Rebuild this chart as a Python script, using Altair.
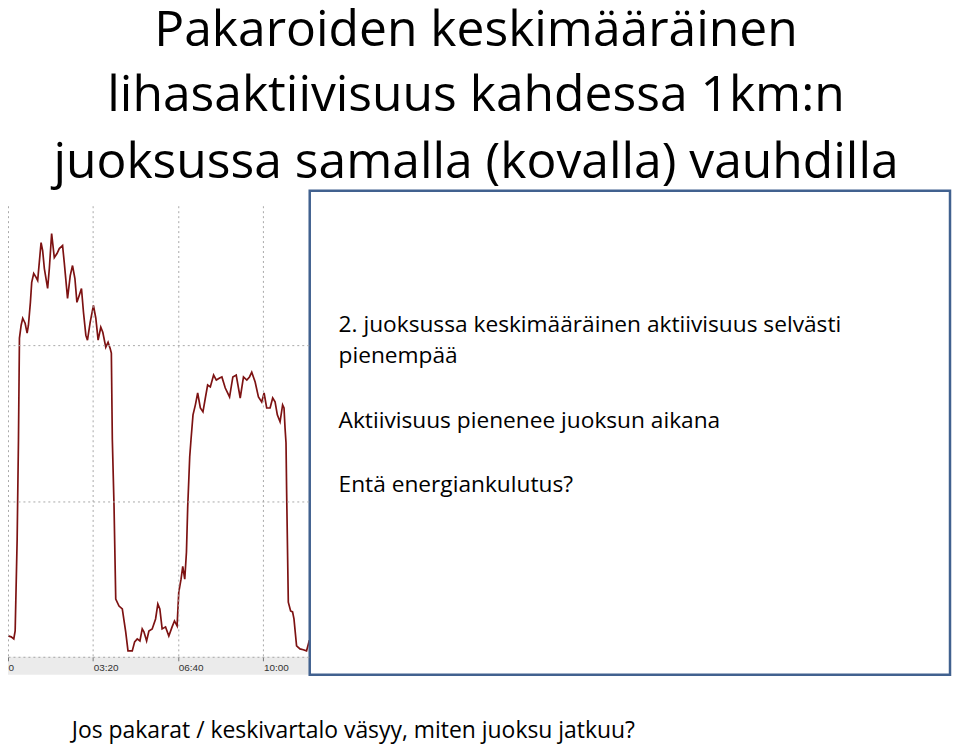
import altair as alt
import pandas as pd

# ---- text content ----
TITLE_LINES = [
    "Pakaroiden keskimääräinen",
    "lihasaktiivisuus kahdessa 1km:n",
    "juoksussa samalla (kovalla) vauhdilla",
]
BOX_LINES = [
    "2. juoksussa keskimääräinen aktiivisuus selvästi",
    "pienempää",
    "Aktiivisuus pienenee juoksun aikana",
    "Entä energiankulutus?",
]
BOTTOM_LINE = "Jos pakarat / keskivartalo väsyy, miten juoksu jatkuu?"

# ---- EMG trace (time in seconds, activity in arbitrary units) ----
time_s = [0, 7.5, 13.6, 16.8, 21.5, 24.6, 26.9, 30.9, 34.6, 40.2, 44.9, 48.0,
          52.6, 55.7, 60.4, 66.0, 69.7, 77.7, 81.4, 85.4, 93.1, 97.1, 102.5,
          108.8, 115.1, 120.5, 128.2, 132.2, 139.9, 146.2, 151.6, 157.2, 161.9,
          167.3, 172.6, 177.3, 182.9, 186.7, 193.0, 200.7, 206.3, 211.7, 218.0,
          222.7, 229.7, 235.1, 239.8, 242.8, 245.1, 249.1, 253.1, 260.8, 268.5,
          276.5, 281.9, 291.9, 297.5, 303.6, 309.9, 315.3, 319.3, 325.6, 331.0,
          338.7, 346.7, 352.0, 356.7, 362.1, 370.1, 377.8, 385.5, 391.1, 397.2,
          401.2, 406.5, 410.5, 415.2, 419.2, 422.2, 426.9, 429.9, 434.6, 440.2,
          445.6, 451.9, 458.0, 463.6, 469.0, 475.3, 483.0, 489.4, 497.1, 502.5,
          510.4, 520.5, 528.2, 536.1, 545.5, 553.2, 561.0, 567.3, 572.6, 580.6,
          588.3, 596.0, 601.6, 607.7, 615.7, 621.8, 627.4, 632.7, 639.1, 645.1,
          648.4, 650.8, 653.1, 654.5, 658.5, 663.9, 668.5, 671.8, 677.9, 685.9,
          693.6, 701.3, 707.6, 713.0, 718.6]
activity = [13.4, 12.8, 11.5, 16.6, 75.4, 139.3, 204.5, 212.8, 217.3, 214.1,
            207.7, 212.8, 227.5, 240.3, 246.0, 243.5, 241.5, 265.8, 260.7, 249.2,
            236.4, 249.2, 271.6, 256.2, 258.8, 262.0, 263.9, 253.0, 230.0, 244.7,
            251.1, 242.8, 227.5, 231.9, 236.4, 221.1, 206.4, 203.2, 214.7, 225.6,
            217.3, 203.2, 211.5, 208.3, 198.7, 201.9, 198.1, 194.9, 139.3, 96.5,
            37.1, 32.6, 30.7, 16.0, 3.8, 3.8, 9.6, 11.5, 10.2, 17.9, 16.0, 10.2,
            16.6, 17.9, 24.3, 33.9, 30.7, 17.9, 19.2, 13.4, 19.2, 23.0, 19.8,
            41.5, 49.8, 58.1, 49.8, 67.1, 96.5, 128.4, 139.3, 155.3, 161.7, 169.3,
            159.7, 157.2, 166.1, 174.4, 173.2, 180.8, 177.6, 178.9, 179.6, 172.5,
            166.8, 179.6, 180.8, 166.1, 179.6, 177.6, 179.6, 182.7, 176.4, 166.8,
            163.6, 169.3, 159.7, 159.7, 166.1, 163.6, 155.3, 150.8, 161.7, 159.7,
            146.9, 137.4, 107.3, 35.1, 29.4, 28.8, 24.3, 7.0, 5.1, 4.5, 3.8, 10.2,
            10.2, 9.6]
x_ticks = [0, 200, 400, 600]
y_grid = [100, 200]

trace = pd.DataFrame({"t": time_s, "v": activity})

W, H = 303, 453
FONT = "Open Sans"

x_axis = alt.Axis(
    values=x_ticks, grid=True, gridDash=[2, 3], gridColor="#a8a8a8",
    domainDash=[2, 3], domainColor="#a8a8a8", tickColor="#777777", tickSize=4,
    labelAlign="left", labelBaseline="top", labelPadding=2,
    labelFont="Liberation Sans", labelFontSize=10, labelColor="#333333",
    labelExpr="datum.value == 0 ? '0' : format(floor(datum.value/60),'02d') + ':' + format(datum.value%60,'02d')",
    title=None, zindex=1,
)
y_axis = alt.Axis(
    values=y_grid, grid=True, gridDash=[2, 3], gridColor="#a8a8a8",
    labels=False, ticks=False, domain=False, title=None, zindex=1,
)

one = pd.DataFrame({"k": [0]})

band = alt.Chart(one).mark_rect(color="#ebebeb").encode(
    x=alt.value(0), x2=alt.value(W), y=alt.value(H), y2=alt.value(H + 18)
)

line = alt.Chart(trace).mark_line(color="#7d1212", strokeWidth=1.7).encode(
    x=alt.X("t:Q", scale=alt.Scale(domain=[0, 708.8], nice=False, zero=False), axis=x_axis),
    y=alt.Y("v:Q", scale=alt.Scale(domain=[0, 289.5], nice=False), axis=y_axis),
    order="t:Q",
)

box = alt.Chart(one).mark_rect(fill="white", stroke="#41618f", strokeWidth=2.5).encode(
    x=alt.value(303), x2=alt.value(946), y=alt.value(-15), y2=alt.value(471)
)


def text_layer(s, x, y, size, align="left"):
    return alt.Chart(pd.DataFrame({"label": [s]})).mark_text(
        align=align, baseline="alphabetic", font=FONT, fontSize=size, color="black"
    ).encode(x=alt.value(x), y=alt.value(y), text="label:N")


title_layers = [text_layer(s, 470, yy, 50, "center")
                for s, yy in zip(TITLE_LINES, [-160, -95, -28])]
box_layers = [text_layer(s, 332, yy, 22.8)
              for s, yy in zip(BOX_LINES, [127, 158, 223, 287])]
bottom_layer = text_layer(BOTTOM_LINE, 64, 535, 23)

chart = alt.layer(
    band, line, box, *title_layers, *box_layers, bottom_layer
).properties(
    width=W, height=H,
    padding={"left": 0, "top": 197, "right": 645, "bottom": 87},
    autosize=alt.AutoSizeParams(type="none"),
    background="white",
).configure_view(strokeWidth=0)

chart.save("out.html", embed_options={"renderer": "svg", "actions": False})
